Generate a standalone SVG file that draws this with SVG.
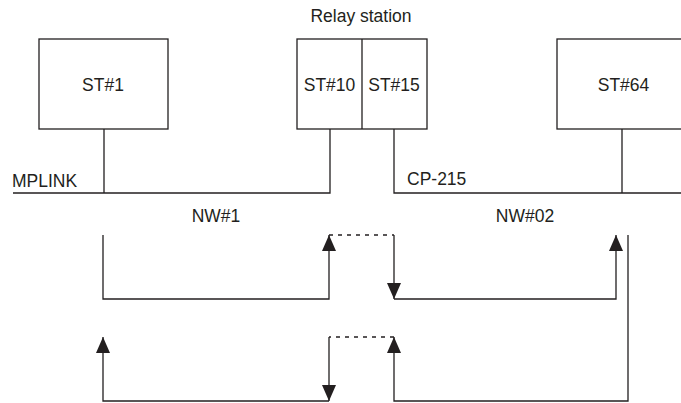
<svg xmlns="http://www.w3.org/2000/svg" width="681" height="403" viewBox="0 0 681 403">
<style>
.box{fill:#fff;stroke:#231f20;stroke-width:1.3}
.ln{fill:none;stroke:#231f20;stroke-width:1.3}
.dot{fill:none;stroke:#231f20;stroke-width:1.3;stroke-dasharray:4 5}
text{font-family:"Liberation Sans",Arial,sans-serif;font-size:17.5px;fill:#231f20}
.c{text-anchor:middle}
</style>
<defs>
<marker id="ah" markerUnits="userSpaceOnUse" markerWidth="16" markerHeight="16" viewBox="0 0 16 16" refX="16" refY="8" orient="auto">
<path d="M0,1 L16,8 L0,15 Z" fill="#231f20"/>
</marker>
</defs>
<rect width="681" height="403" fill="#fff"/>
<g id="st1">
<rect class="box" x="39" y="39" width="129" height="90"/>
<text class="c" x="103" y="91">ST#1</text>
</g>
<g id="relay">
<text class="c" x="361" y="22">Relay station</text>
<rect class="box" x="297" y="39" width="130" height="90"/>
<line class="ln" x1="362" y1="39" x2="362" y2="129"/>
<text class="c" x="329.5" y="91">ST#10</text>
<text class="c" x="394" y="91">ST#15</text>
</g>
<g id="st64">
<rect class="box" x="557" y="39" width="140" height="90"/>
<text class="c" x="623.5" y="91">ST#64</text>
</g>
<g id="connectors">
<path class="ln" d="M13,193 H330 V129 M104,129 V193"/>
<path class="ln" d="M394,129 V193 H681 M622,129 V193"/>
<path class="ln" d="M103,235 V299 H329 V235" marker-end="url(#ah)"/>
<path class="dot" d="M329,235 H394"/>
<path class="ln" d="M394,235 V299" marker-end="url(#ah)"/>
<path class="ln" d="M394,299 H616 V235" marker-end="url(#ah)"/>
<path class="ln" d="M628,235 V401 H394 V337" marker-end="url(#ah)"/>
<path class="dot" d="M394,337 H329"/>
<path class="ln" d="M329,337 V401" marker-end="url(#ah)"/>
<path class="ln" d="M329,401 H103 V337" marker-end="url(#ah)"/>
</g>
<g id="labels">
<text x="12" y="187">MPLINK</text>
<text x="407" y="185">CP-215</text>
<text class="c" x="216" y="222">NW#1</text>
<text class="c" x="525" y="222">NW#02</text>
</g>
</svg>
